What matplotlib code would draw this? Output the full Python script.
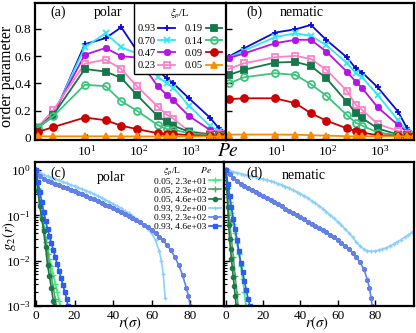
import numpy as np
import matplotlib.pyplot as plt
from matplotlib.ticker import NullLocator, LogLocator

plt.rcParams['font.family'] = 'Liberation Serif'
plt.rcParams['mathtext.fontset'] = 'stix'
plt.rcParams['xtick.direction'] = 'in'
plt.rcParams['ytick.direction'] = 'in'

# ---- top panels: order parameter vs Pe ----
pe = [1.15, 2.3, 9.2, 23, 46, 92, 230, 345, 460, 920, 2300, 3450, 4600]
xi_labels = ['0.93', '0.70', '0.47', '0.23', '0.19', '0.14', '0.09', '0.05']

polar_093 = [0.076, 0.16, 0.688, 0.732, 0.812, 0.64, 0.49, 0.44, 0.40, 0.29, 0.15, 0.07, 0.045]
polar_070 = [0.076, 0.17, 0.665, 0.768, 0.665, 0.62, 0.45, 0.40, 0.37, 0.235, 0.09, 0.05, 0.035]
polar_047 = [0.076, 0.18, 0.61, 0.66, 0.60, 0.59, 0.38, 0.315, 0.275, 0.16, 0.06, 0.04, 0.035]
polar_023 = [0.08, 0.205, 0.545, 0.575, 0.505, 0.38, 0.23, 0.17, 0.14, 0.05, 0.03, 0.03, 0.025]
polar_019 = [0.076, 0.17, 0.506, 0.487, 0.44, 0.315, 0.16, 0.12, 0.09, 0.045, 0.025, 0.02, 0.02]
polar_014 = [0.076, 0.16, 0.39, 0.38, 0.27, 0.20, 0.095, 0.065, 0.06, 0.035, 0.02, 0.02, 0.02]
polar_009 = [0.044, 0.08, 0.15, 0.13, 0.09, 0.065, 0.035, 0.03, 0.03, 0.02, 0.015, 0.015, 0.015]
polar_005 = [0.012, 0.012, 0.012, 0.012, 0.012, 0.011, 0.011, 0.011, 0.011, 0.011, 0.011, 0.011, 0.011]

nem_093 = [0.597, 0.658, 0.773, 0.797, 0.829, 0.719, 0.592, 0.51, 0.48, 0.372, 0.193, 0.07, 0.035]
nem_070 = [0.59, 0.64, 0.74, 0.768, 0.749, 0.68, 0.55, 0.475, 0.445, 0.315, 0.13, 0.05, 0.025]
nem_047 = [0.585, 0.62, 0.695, 0.72, 0.72, 0.633, 0.487, 0.413, 0.365, 0.225, 0.095, 0.045, 0.02]
nem_023 = [0.506, 0.548, 0.592, 0.602, 0.58, 0.50, 0.347, 0.242, 0.205, 0.103, 0.05, 0.03, 0.02]
nem_019 = [0.462, 0.50, 0.553, 0.558, 0.528, 0.438, 0.266, 0.181, 0.145, 0.07, 0.025, 0.02, 0.01]
nem_014 = [0.40, 0.445, 0.475, 0.462, 0.394, 0.31, 0.169, 0.112, 0.09, 0.04, 0.02, 0.02, 0.01]
nem_009 = [0.284, 0.291, 0.291, 0.255, 0.181, 0.127, 0.071, 0.05, 0.04, 0.02, 0.015, 0.015, 0.015]
nem_005 = [0.025, 0.025, 0.025, 0.024, 0.02, 0.017, 0.013, 0.012, 0.012, 0.012, 0.012, 0.012, 0.012]

polar_series = [polar_093, polar_070, polar_047, polar_023, polar_019, polar_014, polar_009, polar_005]
nem_series = [nem_093, nem_070, nem_047, nem_023, nem_019, nem_014, nem_009, nem_005]

top_colors = ['#0a0ad8', '#30e8f0', '#b414e6', '#ff80c8', '#14784a', '#3cc47c', '#cc0000', '#ff8c00']
top_markers = ['+', 'x', (8, 2, 0), 's', 's', 'o', 'o', '^']
top_filled = [True, True, True, False, True, False, True, True]

# ---- bottom panels: g2(r) ----
g2_labels = ['0.05, 2.3e+01', '0.05, 2.3e+02', '0.05, 4.6e+03',
             '0.93, 9.2e+00', '0.93, 2.3e+02', '0.93, 4.6e+03']

# polar
pol_r_a = [0, 1, 2, 3, 4, 5, 6, 7, 8, 9, 10, 11, 12, 12.6]
pol_g_a = [1.0, 0.4, 0.2, 0.1, 0.055, 0.03, 0.018, 0.011, 0.0075, 0.0048, 0.0031, 0.002, 0.0013, 0.001]
pol_r_b = [0, 1, 2, 3, 4, 5, 6, 7, 8, 9, 10, 10.5]
pol_g_b = [1.0, 0.38, 0.18, 0.09, 0.05, 0.026, 0.014, 0.008, 0.0045, 0.0025, 0.0014, 0.001]
pol_r_c = [0, 1, 2, 3, 4, 5, 6, 7, 8, 9, 9.5]
pol_g_c = [1.0, 0.35, 0.16, 0.085, 0.045, 0.02, 0.008, 0.0045, 0.0025, 0.0013, 0.001]
pol_r_d = [0, 2, 4, 6, 8, 10, 12, 14, 16, 18, 20, 22, 24, 26, 28, 30, 32, 34, 36, 38, 40,
           42, 44, 46, 48, 50, 52, 54, 56, 58, 60, 62, 64, 65, 66, 67]
pol_g_d = [1.0, 0.86, 0.79, 0.73, 0.68, 0.63, 0.59, 0.55, 0.51, 0.47, 0.44, 0.41, 0.38, 0.35,
           0.32, 0.295, 0.27, 0.245, 0.22, 0.2, 0.18, 0.16, 0.143, 0.127, 0.112, 0.098, 0.085,
           0.072, 0.06, 0.05, 0.04, 0.028, 0.016, 0.01, 0.005, 0.0015]
pol_r_e = [0, 2, 4, 6, 8, 10, 12, 14, 16, 18, 20, 22, 24, 26, 28, 30, 32, 34, 36, 38, 40,
           42, 44, 46, 48, 50, 52, 54, 56, 58, 60, 62, 64, 66, 68, 70, 72, 74, 76, 78, 79, 80]
pol_g_e = [1.0, 0.75, 0.64, 0.57, 0.53, 0.49, 0.46, 0.43, 0.4, 0.37, 0.34, 0.315, 0.29, 0.265,
           0.245, 0.225, 0.205, 0.19, 0.172, 0.157, 0.143, 0.13, 0.118, 0.107, 0.097, 0.087,
           0.078, 0.07, 0.062, 0.054, 0.047, 0.04, 0.034, 0.028, 0.022, 0.017, 0.012, 0.008,
           0.0048, 0.0025, 0.0017, 0.001]
pol_r_f = [0, 1, 2, 3, 4, 5, 6, 7, 8, 9, 10, 11, 12, 13, 14, 15, 16, 16.5]
pol_g_f = [1.0, 0.55, 0.33, 0.2, 0.12, 0.075, 0.05, 0.035, 0.024, 0.017, 0.012, 0.0084,
           0.0059, 0.0041, 0.0029, 0.002, 0.0014, 0.001]

# nematic
nem_r_a = [0, 1, 2, 3, 4, 5, 6, 7, 8, 9, 10, 10.7]
nem_g_a = [1.0, 0.4, 0.2, 0.11, 0.065, 0.04, 0.024, 0.014, 0.0075, 0.004, 0.002, 0.001]
nem_r_b = [0, 1, 2, 3, 4, 5, 6, 6.5]
nem_g_b = [1.0, 0.25, 0.07, 0.03, 0.012, 0.0045, 0.0018, 0.001]
nem_r_c = [0, 0.5, 1, 1.5, 2, 2.5, 3, 3.5, 4, 4.5, 5, 5.5]
nem_g_c = [1.0, 0.4, 0.15, 0.06, 0.03, 0.018, 0.011, 0.0068, 0.0043, 0.0027, 0.0017, 0.001]
nem_r_d = [0, 2, 4, 6, 8, 10, 12, 14, 16, 18, 20, 22, 24, 26, 28, 30, 32, 34, 36, 38, 40,
           42, 44, 46, 48, 50, 52, 54, 56, 58, 60, 62, 64, 66, 68, 70, 72, 74, 76, 78, 80,
           82, 84, 86, 88, 90, 92, 94, 96, 98, 100]
nem_g_d = [1.0, 0.95, 0.91, 0.87, 0.83, 0.79, 0.75, 0.72, 0.69, 0.66, 0.63, 0.6, 0.57, 0.54,
           0.5, 0.47, 0.43, 0.4, 0.36, 0.33, 0.3, 0.27, 0.24, 0.21, 0.185, 0.16, 0.14, 0.12,
           0.1, 0.086, 0.073, 0.061, 0.05, 0.041, 0.033, 0.026, 0.021, 0.018, 0.0165, 0.016,
           0.0162, 0.017, 0.018, 0.019, 0.021, 0.023, 0.026, 0.029, 0.033, 0.037, 0.042]
nem_r_e = [0, 2, 4, 6, 8, 10, 12, 14, 16, 18, 20, 22, 24, 26, 28, 30, 32, 34, 36, 38, 40,
           42, 44, 46, 48, 50, 52, 54, 56, 58, 60, 62, 64, 66, 68, 70, 72, 74, 76, 77, 78, 78.5]
nem_g_e = [1.0, 0.82, 0.68, 0.58, 0.5, 0.45, 0.41, 0.37, 0.33, 0.3, 0.27, 0.24, 0.215, 0.195,
           0.175, 0.157, 0.14, 0.126, 0.113, 0.101, 0.09, 0.081, 0.073, 0.066, 0.059, 0.053,
           0.047, 0.042, 0.037, 0.033, 0.029, 0.025, 0.021, 0.018, 0.015, 0.012, 0.0092,
           0.0066, 0.0038, 0.0025, 0.0015, 0.001]
nem_r_f = [0, 1, 2, 3, 4, 5, 6, 7, 8, 9, 10, 11, 12, 13]
nem_g_f = [1.0, 0.5, 0.27, 0.15, 0.085, 0.05, 0.028, 0.016, 0.009, 0.0055, 0.0035, 0.0022,
           0.0014, 0.001]

g2_colors = ['#3cf07c', '#5f9f6f', '#187a44', '#8cd0f8', '#6482e6', '#2c5cf0']
g2_markers = ['+', '+', 'o', '+', (8, 2, 0), 's']
g2_msize = [4, 4, 3, 3.5, 3.5, 2.6]

fig = plt.figure(figsize=(4.16, 3.33), dpi=100)
W, H = 416.0, 333.0
axa = fig.add_axes([35 / W, 1 - 140 / H, 191 / W, 137 / H])
axb = fig.add_axes([226 / W, 1 - 140 / H, 188 / W, 137 / H])
axc = fig.add_axes([35 / W, 1 - 306 / H, 189 / W, 144 / H])
axd = fig.add_axes([224 / W, 1 - 306 / H, 190 / W, 144 / H])

for ax, series in [(axa, polar_series), (axb, nem_series)]:
    for i, ys in enumerate(series):
        c = top_colors[i]
        ax.plot(pe, ys, color=c, lw=1.3, marker=top_markers[i], ms=5,
                mec=c, mfc=c if top_filled[i] else 'none', mew=1.3,
                label=xi_labels[i])
    ax.set_xscale('log')
    ax.set_xlim(1.02, 4700)
    ax.set_ylim(-0.015, 0.99)
    ax.set_xticks([10, 100, 1000])
    ax.xaxis.set_minor_locator(NullLocator())
    ax.set_yticks([0, 0.2, 0.4, 0.6, 0.8])
    ax.tick_params(labelsize=9.5, length=4, width=1, pad=3)

axa.set_yticklabels(['0', '0.2', '0.4', '0.6', '0.8'])
axb.set_yticklabels([])
fig.text(7 / W, 1 - 76 / H, 'order parameter', rotation=90, fontsize=11.5,
         ha='center', va='center')
axa.text(0.12, 0.905, '(a)', transform=axa.transAxes, fontsize=10, ha='center')
axa.text(0.38, 0.905, 'polar', transform=axa.transAxes, fontsize=10, ha='center')
axb.text(0.15, 0.905, '(b)', transform=axb.transAxes, fontsize=10, ha='center')
axb.text(0.40, 0.905, 'nematic', transform=axb.transAxes, fontsize=10, ha='center')
fig.text(228 / W, 1 - 152 / H, '$Pe$', fontsize=14, ha='center', va='center')

leg = axa.legend(ncol=2, title=r'$\xi_p$/L', loc='upper right', borderaxespad=0,
                 markerfirst=False, fontsize=7.5, title_fontsize=7.5, fancybox=False,
                 framealpha=1, edgecolor='black', handlelength=1.6, handletextpad=0.3,
                 columnspacing=0.9, labelspacing=0.3, borderpad=0.35)
leg.get_frame().set_linewidth(1.0)

pol = [(pol_r_a, pol_g_a), (pol_r_b, pol_g_b), (pol_r_c, pol_g_c),
       (pol_r_d, pol_g_d), (pol_r_e, pol_g_e), (pol_r_f, pol_g_f)]
nem = [(nem_r_a, nem_g_a), (nem_r_b, nem_g_b), (nem_r_c, nem_g_c),
       (nem_r_d, nem_g_d), (nem_r_e, nem_g_e), (nem_r_f, nem_g_f)]

for ax, curves in [(axc, pol), (axd, nem)]:
    for i, (rr, gg) in enumerate(curves):
        c = g2_colors[i]
        ax.plot(rr, gg, color=c, lw=1.2, marker=g2_markers[i], ms=g2_msize[i],
                mec=c, mfc=c, mew=1.0, label=g2_labels[i])
    ax.set_yscale('log')
    ax.set_ylim(1e-3, 1.5)
    ax.set_xticks([0, 20, 40, 60, 80])
    ax.yaxis.set_minor_locator(LogLocator(base=10, subs=np.arange(2, 10)))
    ax.tick_params(labelsize=9.5, length=4, width=1, pad=3)
    ax.tick_params(which='minor', length=2, width=0.8)

axc.text(0.505, -0.118, r'$r(\sigma)$', transform=axc.transAxes, fontsize=10.5,
         ha='center', va='center')
axd.text(0.49, -0.118, r'$r(\sigma)$', transform=axd.transAxes, fontsize=10.5,
         ha='center', va='center')
axc.set_xlim(-0.5, 97.5)
axd.set_xlim(-1, 101)
axd.tick_params(axis='y', which='both', labelleft=False)
fig.text(9 / W, 1 - 236 / H, '$g_2(r)$', rotation=90, fontsize=10.5,
         ha='center', va='center')
axc.text(0.12, 0.9, '(c)', transform=axc.transAxes, fontsize=10, ha='center')
axc.text(0.40, 0.87, 'polar', transform=axc.transAxes, fontsize=10, ha='center')
axd.text(0.16, 0.9, '(d)', transform=axd.transAxes, fontsize=10, ha='center')
axd.text(0.42, 0.88, 'nematic', transform=axd.transAxes, fontsize=10, ha='center')

axc.legend(title=r'$\xi_p$/L         $Pe$', loc='upper right', frameon=False,
           markerfirst=False, fontsize=6.8, title_fontsize=6.8, handlelength=1.3,
           handletextpad=0.3, labelspacing=0.05, borderpad=0.2, borderaxespad=0.1)

for ax in [axa, axb, axc, axd]:
    for s in ax.spines.values():
        s.set_linewidth(1.6)

fig.savefig('out.png', dpi=100)
